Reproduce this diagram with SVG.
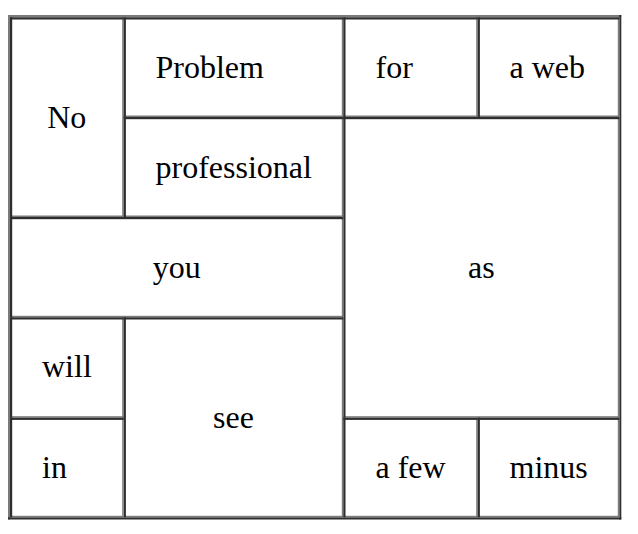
<svg xmlns="http://www.w3.org/2000/svg" width="638" height="534" viewBox="0 0 638 534">
<style>
.l{fill:#7b7b7b}
.d{fill:#2e2e2e}
text{font-family:'Liberation Serif',Tinos,'DejaVu Serif',serif;font-size:32px;fill:#000}
.c{text-anchor:middle}
</style>
<rect width="638" height="534" fill="#fff"/>
<g id="table-frame">
<rect class="l" x="8" y="15" width="613.3" height="2.3"/>
<rect class="l" x="8" y="15" width="2" height="504.5"/>
<rect class="d" x="8" y="517.3" width="613.3" height="2.2"/>
<rect class="d" x="619.3" y="15" width="2" height="504.5"/>
</g>
<g id="cell-no">
<rect class="l" x="10" y="215.5" width="113.7" height="1.5"/><rect class="l" x="122.2" y="17.3" width="1.5" height="199.7"/>
<rect class="d" x="10" y="17.3" width="113.7" height="2.2"/><rect class="d" x="10" y="17.3" width="2.2" height="199.7"/>
<text class="c" x="66.8" y="128.3">No</text>
</g>
<g id="cell-problem">
<rect class="l" x="123.7" y="115.5" width="219.6" height="1.5"/><rect class="l" x="341.8" y="17.3" width="1.5" height="99.7"/>
<rect class="d" x="123.7" y="17.3" width="219.6" height="2.2"/><rect class="d" x="123.7" y="17.3" width="2.2" height="99.7"/>
<text x="155.5" y="78.3">Problem</text>
</g>
<g id="cell-for">
<rect class="l" x="343.3" y="115.5" width="134.4" height="1.5"/><rect class="l" x="476.2" y="17.3" width="1.5" height="99.7"/>
<rect class="d" x="343.3" y="17.3" width="134.4" height="2.2"/><rect class="d" x="343.3" y="17.3" width="2.2" height="99.7"/>
<text x="375.5" y="78.3">for</text>
</g>
<g id="cell-aweb">
<rect class="l" x="477.7" y="115.5" width="141.6" height="1.5"/><rect class="l" x="617.8" y="17.3" width="1.5" height="99.7"/>
<rect class="d" x="477.7" y="17.3" width="141.6" height="2.2"/><rect class="d" x="477.7" y="17.3" width="2.2" height="99.7"/>
<text x="509.5" y="78.3">a web</text>
</g>
<g id="cell-professional">
<rect class="l" x="123.7" y="215.5" width="219.6" height="1.5"/><rect class="l" x="341.8" y="117" width="1.5" height="100"/>
<rect class="d" x="123.7" y="117" width="219.6" height="2.2"/><rect class="d" x="123.7" y="117" width="2.2" height="100"/>
<text x="155.5" y="177.8">professional</text>
</g>
<g id="cell-as">
<rect class="l" x="343.3" y="416.2" width="276" height="1.5"/><rect class="l" x="617.8" y="117" width="1.5" height="300.7"/>
<rect class="d" x="343.3" y="117" width="276" height="2.2"/><rect class="d" x="343.3" y="117" width="2.2" height="300.7"/>
<text class="c" x="481.3" y="278">as</text>
</g>
<g id="cell-you">
<rect class="l" x="10" y="315.8" width="333.3" height="1.5"/><rect class="l" x="341.8" y="217" width="1.5" height="100.3"/>
<rect class="d" x="10" y="217" width="333.3" height="2.2"/><rect class="d" x="10" y="217" width="2.2" height="100.3"/>
<text class="c" x="176.7" y="278">you</text>
</g>
<g id="cell-will">
<rect class="l" x="10" y="416.2" width="113.7" height="1.5"/><rect class="l" x="122.2" y="317.3" width="1.5" height="100.4"/>
<rect class="d" x="10" y="317.3" width="113.7" height="2.2"/><rect class="d" x="10" y="317.3" width="2.2" height="100.4"/>
<text x="42" y="377.3">will</text>
</g>
<g id="cell-see">
<rect class="l" x="123.7" y="515.8" width="219.6" height="1.5"/><rect class="l" x="341.8" y="317.3" width="1.5" height="200"/>
<rect class="d" x="123.7" y="317.3" width="219.6" height="2.2"/><rect class="d" x="123.7" y="317.3" width="2.2" height="200"/>
<text class="c" x="233.5" y="428">see</text>
</g>
<g id="cell-in">
<rect class="l" x="10" y="515.8" width="113.7" height="1.5"/><rect class="l" x="122.2" y="417.7" width="1.5" height="99.6"/>
<rect class="d" x="10" y="417.7" width="113.7" height="2.2"/><rect class="d" x="10" y="417.7" width="2.2" height="99.6"/>
<text x="42" y="478.3">in</text>
</g>
<g id="cell-afew">
<rect class="l" x="343.3" y="515.8" width="134.4" height="1.5"/><rect class="l" x="476.2" y="417.7" width="1.5" height="99.6"/>
<rect class="d" x="343.3" y="417.7" width="134.4" height="2.2"/><rect class="d" x="343.3" y="417.7" width="2.2" height="99.6"/>
<text x="375.5" y="478.3">a few</text>
</g>
<g id="cell-minus">
<rect class="l" x="477.7" y="515.8" width="141.6" height="1.5"/><rect class="l" x="617.8" y="417.7" width="1.5" height="99.6"/>
<rect class="d" x="477.7" y="417.7" width="141.6" height="2.2"/><rect class="d" x="477.7" y="417.7" width="2.2" height="99.6"/>
<text x="509.5" y="478.3">minus</text>
</g>
<g id="connectors"/>
</svg>
